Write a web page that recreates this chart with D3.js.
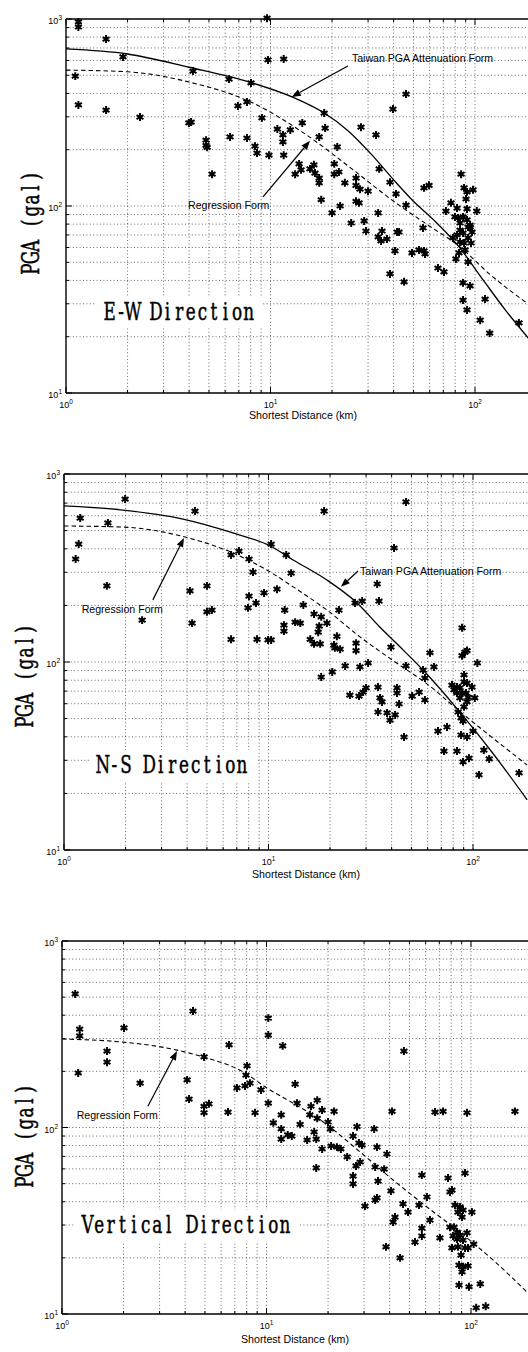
<!DOCTYPE html>
<html>
<head>
<meta charset="utf-8">
<script src="https://cdn.jsdelivr.net/npm/d3@7"></script>
<style>
  html, body { margin: 0; padding: 0; background: #fff; }
  svg { display: block; }
</style>
</head>
<body>
<svg id="chart" width="528" height="1352"></svg>
<script>
// ---- labels ----
const xMajorTicks = [1, 10, 100];
const yMajorTicks = [10, 100, 1000];
const xAxisTitle = "Shortest Distance (km)";
const yAxisTitle = "PGA (gal)";
const taiwanLabel = "Taiwan PGA Attenuation Form";
const regressionLabel = "Regression Form";

// ---- E-W component: [shortest distance (km), PGA (gal)] ----
const ewRecords = [
  [1.15,964],[1.15,906],[1.57,781],[1.90,627],[1.11,495],[4.18,527],[6.27,477],[8.03,455],[9.72,604],
  [1.15,347],[1.57,326],[2.30,299],[3.99,278],[4.09,281],[6.93,343],[7.67,360],[9.08,296],
  [4.84,225],[4.84,211],[4.90,206],[6.34,234],[7.67,231],[8.40,209],[8.59,192],[9.83,187],[5.18,148],
  [9.62,1010],[11.6,611],[46.0,397],[39.7,330],[18.3,314],[14.3,278],[27.7,264],[32.8,240],
  [10.8,258],[11.5,240],[11.5,220],[12.5,255],[17.3,234],[18.5,261],[21.2,207],[11.6,187],
  [13.8,168],[13.2,148],[14.1,156],[15.6,158],[16.3,166],[16.5,150],[17.3,141],[17.3,133],
  [20.5,168],[21.6,152],[20.5,148],[23.1,133],[26.2,141],[26.2,129],[27.4,123],[30.0,120],
  [34.0,158],[38.4,134],[41.1,116],[46.0,101],[56.3,125],[59.6,129],[17.7,108],[21.9,100],
  [26.2,106],[27.1,104],[33.6,91.8],[20.0,91.8],[24.8,81.1],[28.7,83.2],[55.7,76.3],
  [76.3,104],[72.1,94.0],[81.7,97.5],[91.4,96.4],[102,94.0],[85.5,148],[88.4,125],[91.4,119],
  [97.8,122],[90.4,109],[79.8,87.4],[82.6,86.3],[87.4,87.4],[91.4,84.2],[92.5,77.2],[94.6,77.2],
  [84.5,81.1],[29.3,73.5],[33.6,68.3],[34.7,65.0],[37.1,66.6],[35.1,73.5],[41.6,72.6],[42.5,72.6],
  [40.6,57.5],[49.2,56.1],[53.2,58.2],[56.3,57.5],[57.0,55.4],[38.4,43.3],[45.0,39.3],[65.9,46.6],
  [70.5,44.4],[78.0,67.5],[81.7,70.0],[84.5,74.4],[87.4,71.7],[94.6,79.1],[96.7,72.6],[92.5,67.5],
  [88.4,63.4],[84.5,64.2],[95.6,63.4],[83.5,56.1],[80.7,52.1],[92.5,50.2],[89.4,58.2],[87.4,38.8],
  [94.6,37.4],[87.4,31.4],[91.4,27.8],[112,31.8],[106,24.5],[118,20.9],[164,23.7]
];
const ewTaiwanCurve = [
  [1,692],[2,650],[4,552],[8,458],[13,380],[18,318],[24,252],[31,190],[40,138],[50,106],
  [63,84],[82,62],[110,40],[140,28],[185,19.3]
];
const ewRegressionCurve = [
  [1,533],[2,522],[4,460],[8,360],[15,240],[25,158],[40,106],[60,78],[82,62],[120,42.5],[185,29.5]
];

// ---- N-S component ----
const nsRecords = [
  [1.99,736],[4.37,635],[1.20,583],[1.64,549],[1.18,424],[1.14,353],[1.62,254],[2.41,167],
  [4.13,239],[5.00,254],[4.23,161],[5.00,185],[5.29,189],[6.56,371],[7.17,389],[8.03,353],
  [8.40,301],[8.03,224],[9.51,233],[8.69,206],[7.94,194],[6.56,132],[8.79,132],[9.95,131],
  [10.3,424],[12.2,371],[18.7,635],[47.0,710],[41.1,404],[12.9,297],[11.0,244],[34.0,260],
  [34.7,211],[28.7,211],[26.5,206],[14.8,201],[22.1,189],[12.0,189],[16.7,180],[18.1,174],
  [11.9,157],[11.9,146],[13.5,163],[14.3,161],[17.7,155],[19.3,161],[17.5,144],[16.0,132],
  [10.3,131],[16.7,125],[17.9,125],[21.6,137],[20.9,123],[21.1,119],[22.4,117],[26.8,126],
  [26.8,115],[39.7,120],[23.7,95.3],[28.0,94.1],[30.7,98.8],[47.0,95.3],[61.6,112],[64.4,94.1],
  [88.4,152],[88.4,108],[91.4,113],[93.5,115],[105,98.8],[18.1,83.2],[20.5,88.5],[57.0,90.6],
  [58.2,82.2],[25.0,66.7],[27.7,65.9],[29.0,69.2],[30.0,72.8],[34.3,73.6],[35.1,64.4],[35.9,61.3],
  [42.5,72.8],[42.5,68.4],[43.5,59.8],[50.4,65.9],[54.5,69.2],[58.2,62.8],[34.3,54.2],[38.0,53.6],
  [39.3,49.1],[41.6,52.3],[46.0,39.9],[78.9,75.4],[83.5,73.6],[86.3,72.8],[90.4,85.3],[90.4,78.3],
  [93.5,77.3],[98.9,73.6],[88.4,68.4],[92.5,68.4],[94.6,65.1],[102,64.4],[86.3,64.4],[83.5,68.4],
  [80.7,71.0],[93.5,61.3],[90.4,57.7],[84.5,54.2],[87.4,50.4],[89.4,48.5],[67.4,42.9],[74.6,45.1],
  [100,42.9],[87.4,40.9],[93.5,39.9],[72.1,33.6],[83.5,33.6],[89.4,29.4],[95.6,30.8],[113,34.0],
  [120,30.5],[107,25.1],[168,25.7]
];
const nsTaiwanCurve = [
  [1,676],[1.94,643],[3.82,576],[6.7,486],[10.2,414],[13.2,349],[19.3,273],[27.1,206],[35.1,153],
  [45.5,116],[57,90.6],[84.5,55.6],[125,32.7],[184,18.5]
];
const nsRegressionCurve = [
  [1,529],[1.94,522],[3.91,462],[6.7,380],[10.2,301],[13.2,251],[19.3,189],[28,136],[41.1,101],
  [60,76],[84.5,55.6],[184,28.3]
];

// ---- Vertical component ----
const vtRecords = [
  [1.16,520],[1.22,337],[1.22,310],[2.01,342],[1.66,257],[1.66,224],[1.20,196],[2.41,173],
  [4.37,421],[6.56,277],[4.95,239],[8.03,214],[7.94,191],[8.30,173],[7.85,167],[7.17,163],
  [9.40,159],[4.09,180],[4.18,142],[4.95,130],[4.95,120],[5.23,134],[6.48,121],[8.79,120],
  [10.2,386],[10.2,313],[10.2,135],[12.0,274],[47.0,257],[13.8,171],[14.1,135],[17.7,140],
  [16.5,130],[18.7,124],[21.4,122],[11.8,117],[16.3,117],[17.7,112],[41.1,122],[66.7,121],
  [73.0,122],[95.6,120],[164,122],[10.8,106],[11.8,98.2],[11.8,86.7],[12.7,91.2],[13.3,90.0],
  [14.6,104],[15.8,85.7],[17.1,94.6],[17.5,86.7],[20.0,107],[20.5,98.2],[18.7,76.7],[20.7,79.6],
  [22.1,78.5],[23.1,76.7],[17.5,60.7],[24.8,69.5],[26.5,90.0],[27.7,101],[28.3,82.6],[29.3,80.5],
  [28.7,65.3],[27.4,62.2],[26.5,54.9],[26.5,49.8],[33.6,98.2],[34.7,78.5],[34.0,61.4],[38.8,72.1],
  [37.6,59.8],[35.1,51.6],[40.6,45.7],[34.0,40.8],[34.7,41.9],[30.3,37.9],[42.5,33.1],[41.6,31.1],
  [46.5,38.9],[49.2,35.2],[38.4,22.9],[45.0,20.0],[57.5,55.6],[60.9,42.4],[55.7,38.4],[63.0,31.9],
  [57.5,28.9],[57.5,26.2],[53.2,24.3],[70.5,25.6],[77.2,53.6],[80.7,46.2],[78.9,45.1],[93.5,57.0],
  [83.5,38.4],[88.4,37.5],[86.3,35.2],[91.4,36.1],[90.4,33.1],[101,35.2],[78.9,29.2],[82.6,29.2],
  [85.5,27.5],[88.4,26.5],[81.7,26.2],[95.6,27.2],[91.4,24.9],[85.5,25.2],[80.7,22.6],[86.3,22.9],
  [93.5,22.6],[96.7,22.6],[89.4,20.7],[103,23.7],[87.4,18.3],[91.4,17.9],[96.7,18.1],[90.4,16.8],
  [87.4,14.3],[97.8,14.0],[111,14.5],[106,10.8],[118,11.0]
];
const vtRegressionCurve = [
  [1,298],[1.99,287],[3.65,260],[4.89,239],[7.42,203],[10.4,159],[13.5,135],[18.3,110],
  [28.7,73.9],[41.6,52.3],[60.9,37.5],[85.5,28.2],[128,19.5],[188,13.1]
];

// ---- panel layout ----
const panels = [
  {
    left: 66, top: 19, bottom: 393, decade: 204.5,
    records: ewRecords,
    curves: [{ data: ewTaiwanCurve, dash: null }, { data: ewRegressionCurve, dash: "4.5,3" }],
    yTitle: { base: 39, from: 275 }, xTitle: { x: 303, y: 419 },
    direction: { text: "E-W Direction", at: [1.53, 24.5] },
    notes: [
      { text: taiwanLabel, at: [25.0, 589], tail: [23.9, 561], tip: [12.7, 383] },
      { text: regressionLabel, at: [3.95, 96.4], tail: [9.19, 112], tip: [15.6, 223] }
    ]
  },
  {
    left: 64, top: 474, bottom: 850, decade: 204.5,
    records: nsRecords,
    curves: [{ data: nsTaiwanCurve, dash: null }, { data: nsRegressionCurve, dash: "4.5,3" }],
    yTitle: { base: 33, from: 728 }, xTitle: { x: 306, y: 878 },
    direction: { text: "N-S Direction", at: [1.45, 25.7] },
    notes: [
      { text: taiwanLabel, at: [28.0, 290], tail: [27.4, 305], tip: [22.6, 251] },
      { text: regressionLabel, at: [1.22, 182], tail: [2.72, 214], tip: [3.86, 457] }
    ]
  },
  {
    left: 62, top: 941, bottom: 1314, decade: 204.5,
    records: vtRecords,
    curves: [{ data: vtRegressionCurve, dash: "4.5,3" }],
    yTitle: { base: 33, from: 1188 }, xTitle: { x: 295, y: 1343 },
    direction: { text: "Vertical Direction", at: [1.25, 27.2] },
    notes: [
      { text: regressionLabel, at: [1.18, 111], tail: [2.63, 130], tip: [3.65, 257] }
    ]
  }
];

const svg = d3.select("#chart");
const serif = "'DejaVu Serif', 'Liberation Serif', serif";
const sans = "'Liberation Sans', Arial, sans-serif";
const asterisk = d3.symbol().type(d3.symbolAsterisk).size(44);

// fixed-pitch serif lettering: every character centred in its own cell
const CELL = 11.6, SQUEEZE = 0.7, BIG = 24;
function pitchText(sel, str) {
  const xs = Array.from(str, (c, k) => ((k + 0.5) * CELL / SQUEEZE).toFixed(2)).join(" ");
  return sel.append("text")
    .attr("x", xs).attr("y", 0)
    .attr("text-anchor", "middle")
    .attr("font-family", serif).attr("font-size", BIG)
    .attr("fill", "#000").attr("stroke", "#000").attr("stroke-width", 0.5)
    .text(str);
}

function powerLabel(sel, v) {
  const exp = Math.round(Math.log10(v));
  sel.append("tspan").text("10");
  sel.append("tspan").attr("dy", -4).attr("font-size", 6.5).text(exp);
}

panels.forEach((p, i) => {
  const xMaxVal = 250;
  const x = d3.scaleLog().domain([1, xMaxVal])
    .range([p.left, p.left + p.decade * Math.log10(xMaxVal)]);
  const y = d3.scaleLog().domain([10, 1000]).range([p.bottom, p.top]);
  const xEnd = x(xMaxVal);
  const g = svg.append("g");

  const clipId = "clip" + i;
  svg.append("clipPath").attr("id", clipId)
    .append("rect").attr("x", p.left).attr("y", p.top)
    .attr("width", xEnd - p.left).attr("height", p.bottom - p.top);

  // dotted grid at every decade subdivision
  const grid = g.append("g").attr("stroke", "#444").attr("stroke-width", 0.8)
    .attr("stroke-dasharray", "1,2.4");
  grid.selectAll(".gx").data(x.ticks().filter(v => v > 1))
    .join("line")
    .attr("x1", d => x(d)).attr("x2", d => x(d))
    .attr("y1", p.top).attr("y2", p.bottom);
  grid.selectAll(".gy").data(y.ticks().filter(v => v > 10 && v < 1000))
    .join("line")
    .attr("y1", d => y(d)).attr("y2", d => y(d))
    .attr("x1", p.left).attr("x2", xEnd);

  // inward tick marks
  const ticks = g.append("g").attr("stroke", "#000").attr("stroke-width", 1);
  const isMajor = v => Math.abs(Math.log10(v) - Math.round(Math.log10(v))) < 1e-6;
  x.ticks().forEach(v => {
    const len = isMajor(v) ? 6 : 3;
    ticks.append("line").attr("x1", x(v)).attr("x2", x(v)).attr("y1", p.bottom).attr("y2", p.bottom - len);
    ticks.append("line").attr("x1", x(v)).attr("x2", x(v)).attr("y1", p.top).attr("y2", p.top + len);
  });
  y.ticks().forEach(v => {
    const len = isMajor(v) ? 6 : 3;
    ticks.append("line").attr("y1", y(v)).attr("y2", y(v)).attr("x1", p.left).attr("x2", p.left + len);
  });

  // direction label on a white box
  const dx = x(p.direction.at[0]), dy = y(p.direction.at[1]);
  const dWidth = p.direction.text.length * CELL;
  g.append("rect").attr("x", dx - 8).attr("y", dy - 23)
    .attr("width", dWidth + 16).attr("height", 31).attr("fill", "#fff");
  pitchText(g.append("g").attr("transform", `translate(${dx},${dy}) scale(${SQUEEZE},1)`),
    p.direction.text);

  // frame (left, top, bottom)
  const frame = g.append("g").attr("stroke", "#000").attr("stroke-width", 1.4).attr("fill", "none");
  frame.append("line").attr("x1", p.left).attr("x2", p.left).attr("y1", p.top).attr("y2", p.bottom);
  frame.append("line").attr("x1", p.left).attr("x2", xEnd).attr("y1", p.top).attr("y2", p.top);
  frame.append("line").attr("x1", p.left).attr("x2", xEnd).attr("y1", p.bottom).attr("y2", p.bottom);

  // model curves
  const line = d3.line().x(d => x(d[0])).y(d => y(d[1])).curve(d3.curveMonotoneX);
  p.curves.forEach(c => {
    g.append("path").attr("d", line(c.data)).attr("clip-path", `url(#${clipId})`)
      .attr("fill", "none").attr("stroke", "#000")
      .attr("stroke-width", c.dash ? 1.1 : 1.3)
      .attr("stroke-dasharray", c.dash);
  });

  // records
  g.append("g").attr("stroke", "#000").attr("stroke-width", 2).attr("fill", "none")
    .selectAll("path").data(p.records).join("path")
    .attr("transform", d => `translate(${x(d[0])},${y(d[1])})`)
    .attr("d", asterisk);

  // annotations with arrows
  p.notes.forEach(n => {
    g.append("text").attr("x", x(n.at[0])).attr("y", y(n.at[1]))
      .attr("font-family", sans).attr("font-size", 10.6).attr("fill", "#000")
      .text(n.text);
    const tx = x(n.tail[0]), ty = y(n.tail[1]);
    const hx = x(n.tip[0]), hy = y(n.tip[1]);
    const L = Math.hypot(hx - tx, hy - ty);
    const ux = (hx - tx) / L, uy = (hy - ty) / L;
    const head = 9, half = 3.5;
    const bx = hx - ux * head, by = hy - uy * head;
    g.append("line").attr("x1", tx).attr("y1", ty).attr("x2", bx).attr("y2", by)
      .attr("stroke", "#000").attr("stroke-width", 1.2);
    g.append("path")
      .attr("d", `M${hx},${hy}L${bx - uy * half},${by + ux * half}L${bx + uy * half},${by - ux * half}Z`)
      .attr("fill", "#000");
  });

  // tick labels
  xMajorTicks.forEach(v => {
    const t = g.append("text").attr("x", x(v)).attr("y", p.bottom + 15)
      .attr("text-anchor", "middle").attr("font-family", sans)
      .attr("font-size", 9).attr("fill", "#000");
    powerLabel(t, v);
  });
  yMajorTicks.forEach(v => {
    const t = g.append("text").attr("x", p.left - 4).attr("y", y(v) + 5)
      .attr("text-anchor", "end").attr("font-family", sans)
      .attr("font-size", 9).attr("fill", "#000");
    powerLabel(t, v);
  });

  // axis titles
  g.append("text").attr("x", p.xTitle.x).attr("y", p.xTitle.y)
    .attr("text-anchor", "middle").attr("font-family", sans)
    .attr("font-size", 10.5).attr("textLength", 108).attr("lengthAdjust", "spacingAndGlyphs")
    .attr("fill", "#000").text(xAxisTitle);
  pitchText(
    g.append("g").attr("transform",
      `translate(${p.yTitle.base},${p.yTitle.from}) rotate(-90) scale(${SQUEEZE},1)`),
    yAxisTitle);
});
</script>
</body>
</html>
